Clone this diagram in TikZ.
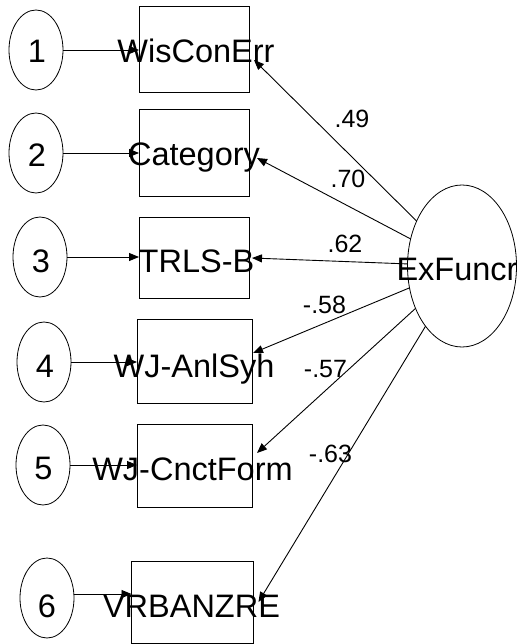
\documentclass[tikz,border=0pt]{standalone}
\usepackage{fontspec}
\setmainfont{Liberation Sans}
\usetikzlibrary{shapes.geometric,arrows.meta}
\begin{document}
\begin{tikzpicture}[x=1pt,y=-1pt,
  every node/.style={inner sep=0pt,outer sep=0pt},
  obs/.style={draw,line width=1pt,rectangle,minimum width=#1},
  err/.style={draw,line width=0.8pt,ellipse,minimum width=54pt,minimum height=80pt},
  lat/.style={draw,line width=0.8pt,ellipse,minimum width=109pt,minimum height=162pt},
  big/.style={anchor=base,font=\fontsize{32.5}{36}\selectfont},
  coef/.style={anchor=base,font=\fontsize{25}{28}\selectfont},
  arr/.style={line width=0.9pt,-{Triangle[length=10pt,width=8pt]}}]
\useasboundingbox (0,0) rectangle (519,644);

% observed indicators
\node[obs=110pt,minimum height=86pt] (b1) at (194,50) {};
\node[obs=110pt,minimum height=87pt] (b2) at (194,153.5) {};
\node[obs=110pt,minimum height=81pt] (b3) at (194,257.5) {};
\node[obs=115pt,minimum height=84pt] (b4) at (194.5,361) {};
\node[obs=115pt,minimum height=83pt] (b5) at (194.5,465.5) {};
\node[obs=122pt,minimum height=82pt] (b6) at (192.5,602) {};

% indicator labels (wider than their boxes)
\node[big] (n1) at (196,63) {WisConErr};
\node[big] (n2) at (194,166) {Category};
\node[big] (n3) at (196.5,272) {TRLS-B};
\node[big] (n4) at (194,377) {WJ-AnlSyh};
\node[big] (n5) at (192.5,480) {WJ-CnctForm};
\node[big] (n6) at (191.5,617) {VRBANZRE};

% error terms
\node[err] (e1) at (36,50) {};
\node[err] (e2) at (36,153) {};
\node[err] (e3) at (40,257) {};
\node[err] (e4) at (44,362) {};
\node[err] (e5) at (43,465) {};
\node[err] (e6) at (47,598) {};
\node[big] (d1) at (37,63) {1};
\node[big] (d2) at (37,167) {2};
\node[big] (d3) at (41,272) {3};
\node[big] (d4) at (45,377) {4};
\node[big] (d5) at (43.5,479) {5};
\node[big] (d6) at (47,617) {6};

% error paths
\draw[arr] (e1) -- (e1 -| b1.west);
\draw[arr] (e2) -- (e2 -| b2.west);
\draw[arr] (e3) -- (e3 -| b3.west);
\draw[arr] (e4) -- (e4 -| b4.west);
\draw[arr] (e5) -- (e5 -| b5.west);
\draw[arr] ([yshift=4pt]e6.east) -- ([yshift=4pt]e6.east -| b6.west);

% latent factor
\node[lat] (ex) at (462,266) {};
\node[big] (nx) at (457,280) {ExFuncr};

% loadings
\draw[arr] (ex) -- ([shift={(5,10)}]b1.east);
\draw[arr] (ex) -- ([shift={(8,4.5)}]b2.east);
\draw[arr] (ex) -- ([shift={(3,0.5)}]b3.east);
\draw[arr] (ex) -- ([shift={(1,-8)}]b4.east);
\draw[arr] (ex) -- ([shift={(5,-12.5)}]b5.east);
\draw[arr] (ex) -- ([shift={(5,0)}]b6.east);

\node[coef] (c1) at (352,128) {.49};
\node[coef] (c2) at (348,188) {.70};
\node[coef] (c3) at (345,252) {.62};
\node[coef] (c4) at (324.5,313) {-.58};
\node[coef] (c5) at (325.5,377) {-.57};
\node[coef] (c6) at (330.5,462) {-.63};
\end{tikzpicture}
\end{document}
